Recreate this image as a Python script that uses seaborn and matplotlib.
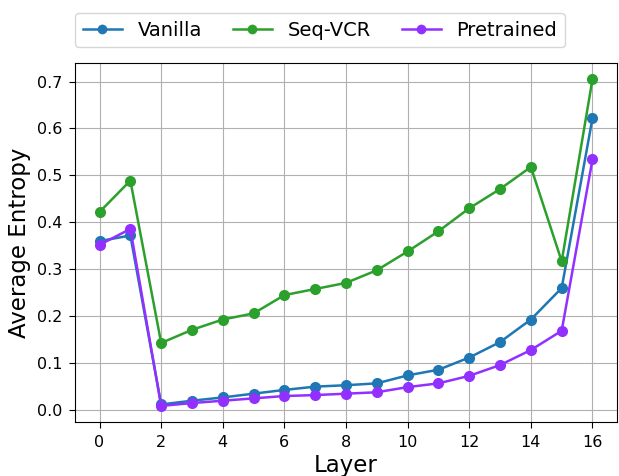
import matplotlib
matplotlib.use("Agg")
import matplotlib.pyplot as plt
import seaborn as sns
import pandas as pd

layers = list(range(17))
vanilla = [0.360, 0.372, 0.012, 0.020, 0.027, 0.035, 0.043, 0.050, 0.053, 0.057, 0.074, 0.086, 0.112, 0.145, 0.193, 0.260, 0.622]
seqvcr = [0.422, 0.489, 0.143, 0.171, 0.193, 0.206, 0.245, 0.258, 0.271, 0.298, 0.338, 0.381, 0.430, 0.471, 0.518, 0.317, 0.705]
pretrained = [0.352, 0.386, 0.009, 0.015, 0.020, 0.025, 0.030, 0.032, 0.035, 0.038, 0.049, 0.057, 0.073, 0.096, 0.128, 0.169, 0.534]
series_names = ["Vanilla", "Seq-VCR", "Pretrained"]
colors = ["#1f77b4", "#2ca02c", "#9130ff"]

rows = []
for name, vals in zip(series_names, [vanilla, seqvcr, pretrained]):
    for l, v in zip(layers, vals):
        rows.append({"Layer": l, "Average Entropy": v, "Model": name})
df = pd.DataFrame(rows)

plt.rcParams["font.family"] = ["DejaVu Sans"]
fig = plt.figure(figsize=(6.19, 4.76), dpi=100)
ax = fig.add_axes([0.121, 0.113, 0.876, 0.755])
sns.lineplot(data=df, x="Layer", y="Average Entropy", hue="Model",
             palette=dict(zip(series_names, colors)), hue_order=series_names,
             marker="o", markersize=8, markeredgewidth=0, linewidth=1.8, ax=ax, legend=False)
ax.grid(True, color="#b0b0b0", linewidth=0.8)
ax.set_axisbelow(True)
ax.set_xticks(range(0, 17, 2))
ax.set_yticks([0.0, 0.1, 0.2, 0.3, 0.4, 0.5, 0.6, 0.7])
ax.tick_params(labelsize=11.5, length=4.5, pad=4.5)
ax.set_xlabel("Layer", fontsize=16.5, labelpad=3)
ax.set_ylabel("Average Entropy", fontsize=16.5, labelpad=4)
for s in ax.spines.values():
    s.set_color("black")

handles = [plt.Line2D([], [], color=c, marker="o", markersize=7, markeredgewidth=0, linewidth=1.8) for c in colors]
fig.legend(handles, series_names, loc="upper center", bbox_to_anchor=(320/619, 1 - 3/476),
           ncol=3, fontsize=14, frameon=True, columnspacing=1.6)
fig.savefig("out.png", dpi=100)
